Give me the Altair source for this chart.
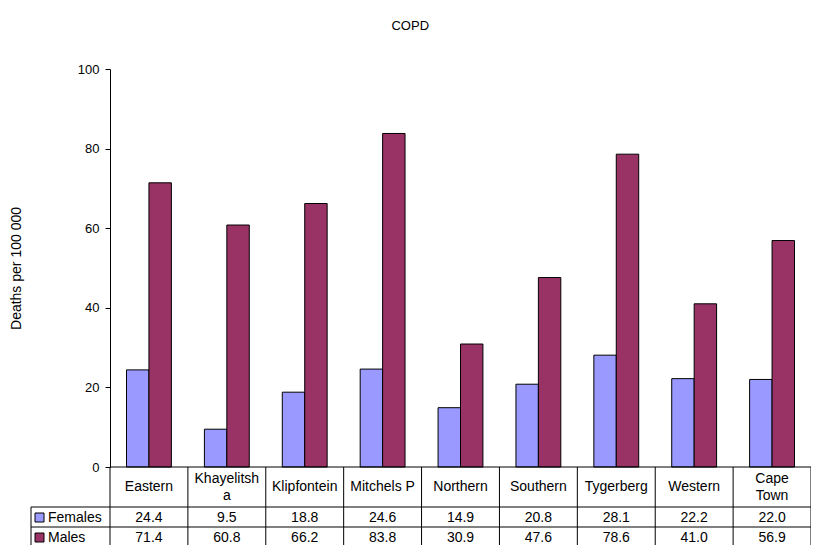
import altair as alt
import pandas as pd

categories = ["Eastern", "Khayelitsha", "Klipfontein", "Mitchels P", "Northern",
              "Southern", "Tygerberg", "Western", "Cape Town"]
cat_labels = ["Eastern", "Khayelitsh\na", "Klipfontein", "Mitchels P", "Northern",
              "Southern", "Tygerberg", "Western", "Cape\nTown"]
females = [24.4, 9.5, 18.8, 24.6, 14.9, 20.8, 28.1, 22.2, 22.0]
males = [71.4, 60.8, 66.2, 83.8, 30.9, 47.6, 78.6, 41.0, 56.9]
series = ["Females", "Males"]
colors = ["#9999FF", "#993366"]
y_ticks = [0, 20, 40, 60, 80, 100]

FONT = "Liberation Sans"
TFS = 14  # table font size
W, H = 701, 398

rows = []
for c, f, m in zip(categories, females, males):
    rows.append({"category": c, "series": "Females", "value": f})
    rows.append({"category": c, "series": "Males", "value": m})
df = pd.DataFrame(rows)
cat_df = pd.DataFrame({"category": categories, "label": cat_labels})
series_df = pd.DataFrame({"series": series})
one = pd.DataFrame({"a": [0]})

xscale = alt.Scale(domain=categories, paddingInner=0, paddingOuter=0)
cscale = alt.Scale(domain=series, range=colors)

bars = alt.Chart(df).mark_bar(stroke="black", strokeWidth=1).encode(
    x=alt.X("category:N", scale=xscale, axis=None),
    xOffset=alt.XOffset("series:N", sort=series,
                        scale=alt.Scale(paddingInner=0, paddingOuter=0.736)),
    y=alt.Y("value:Q", scale=alt.Scale(domain=[0, 100], nice=False),
            axis=alt.Axis(values=y_ticks, grid=False, domainColor="black",
                          tickColor="black", tickSize=5, labelPadding=6,
                          labelFont=FONT, labelFontSize=13, labelColor="black",
                          title="Deaths per 100 000", titleFont=FONT,
                          titleFontSize=14, titleFontWeight="normal",
                          titleColor="black", titleX=-94, titleY=H / 2,
                          titleAngle=-90, titleAlign="center",
                          titleBaseline="middle")),
    color=alt.Color("series:N", sort=series, scale=cscale, legend=None),
)

one_line = alt.Chart(cat_df).transform_filter(
    "indexof(datum.label, '\\n') < 0"
).mark_text(font=FONT, fontSize=TFS, color="black", baseline="middle").encode(
    x=alt.X("category:N", scale=xscale, axis=None),
    y=alt.value(418),
    text="label:N",
)
two_line = alt.Chart(cat_df).transform_filter(
    "indexof(datum.label, '\\n') >= 0"
).mark_text(font=FONT, fontSize=TFS, color="black", baseline="middle",
            lineBreak="\n", lineHeight=17).encode(
    x=alt.X("category:N", scale=xscale, axis=None),
    y=alt.value(410),
    text="label:N",
)

ROW_Y = {"Females": 448.5, "Males": 468.5}

layers = [bars]

BOTTOM = 480
vlines = alt.Chart(cat_df).mark_rule(color="black", strokeWidth=1).encode(
    x=alt.X("category:N", scale=xscale, axis=None, bandPosition=0),
    y=alt.value(398), y2=alt.value(BOTTOM),
)
right_line = alt.Chart(one).mark_rule(color="black", strokeWidth=1).encode(
    x=alt.value(W), y=alt.value(398), y2=alt.value(BOTTOM))
left_line = alt.Chart(one).mark_rule(color="black", strokeWidth=1).encode(
    x=alt.value(-79), y=alt.value(438), y2=alt.value(BOTTOM))
top_line = alt.Chart(one).mark_rule(color="black", strokeWidth=1).encode(
    x=alt.value(0), x2=alt.value(W), y=alt.value(398))
h1 = alt.Chart(one).mark_rule(color="black", strokeWidth=1).encode(
    x=alt.value(-79), x2=alt.value(W), y=alt.value(438))
h2 = alt.Chart(one).mark_rule(color="black", strokeWidth=1).encode(
    x=alt.value(-79), x2=alt.value(W), y=alt.value(458))
layers += [vlines, right_line, left_line, top_line, h1, h2, one_line, two_line]

for s, col in zip(series, colors):
    ry = ROW_Y[s]
    vals = alt.Chart(df).transform_filter(alt.datum.series == s).mark_text(
        font=FONT, fontSize=TFS, color="black", baseline="middle"
    ).encode(
        x=alt.X("category:N", scale=xscale, axis=None),
        y=alt.value(ry),
        text=alt.Text("value:Q", format=".1f"),
    )
    sw = alt.Chart(one).mark_rect(stroke="black", strokeWidth=1, color=col).encode(
        x=alt.value(-75), x2=alt.value(-66),
        y=alt.value(ry - 4.5), y2=alt.value(ry + 4.5),
    )
    lab = alt.Chart(series_df).transform_filter(alt.datum.series == s).mark_text(
        font=FONT, fontSize=TFS, color="black", baseline="middle", align="left"
    ).encode(
        x=alt.value(-62),
        y=alt.value(ry),
        text="series:N",
    )
    layers += [vals, sw, lab]

chart = alt.layer(*layers).properties(
    width=W, height=H,
    title=alt.TitleParams("COPD", font=FONT, fontSize=13, fontWeight="normal",
                          color="black", anchor="middle", frame="bounds",
                          offset=30),
    autosize=alt.AutoSizeParams(type="none"),
    padding={"left": 102, "top": 61, "right": 0, "bottom": 78},
).configure(background="white").configure_view(strokeWidth=0)

chart.save("out.html", embed_options={"renderer": "svg", "actions": False})
